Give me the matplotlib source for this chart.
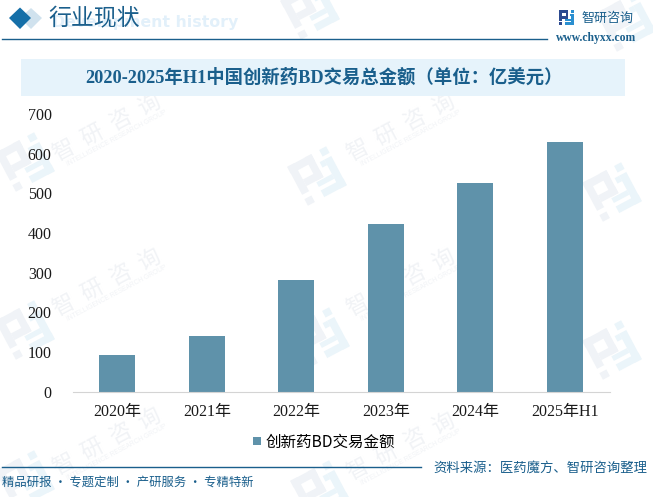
import matplotlib
matplotlib.use("Agg")
from matplotlib import pyplot as plt
from matplotlib.patches import Polygon, Rectangle
from matplotlib.transforms import Affine2D

W = 653
H = 497

years = ["2020年", "2021年", "2022年", "2023年", "2024年", "2025年H1"]
amounts = [92, 140, 281, 423, 526, 630]
y_ticks = [0, 100, 200, 300, 400, 500, 600, 700]

title = "2020-2025年H1中国创新药BD交易总金额（单位：亿美元）"
legend_label = "创新药BD交易金额"
header = "行业现状"
header_en = "Development history"
source = "资料来源：医药魔方、智研咨询整理"
slogan = "精品研报 · 专题定制 · 产研服务 · 专精特新"
logo_name = "智研咨询"
site = "www.chyxx.com"
mark_name = "智  研  咨  询"
mark_sub = "INTELLIGENCE RESEARCH GROUP"

# watermark anchor points, in pixels from top left
mark_text_spots = [(108, 128), (402, 128), (108, 283), (402, 283), (108, 442), (402, 447)]
mark_logo_spots = [(310, 10), (626, 22), (25, 162), (317, 176), (612, 192),
                   (25, 330), (320, 337), (612, 350), (25, 480), (320, 490)]

# logo pieces in a unit box: x, y, w, h
logo_left = [(0, 0, .62, .18), (0, 0, .18, .72), (.18, .42, .44, .17), (.45, 0, .17, .59), (0, .83, .18, .17)]
logo_right = [(.82, 0, .18, .17), (.82, .25, .18, .75), (.42, .83, .58, .17), (.7, .25, .12, .14), (.42, .62, .4, .12)]

BAR = "#5f92aa"
DARK = "#1a5f8c"
SERIF = ["Liberation Serif", "Noto Sans CJK SC"]
CJK = ["Noto Sans CJK SC", "DejaVu Sans"]

plt.rcParams["font.family"] = CJK

fig = plt.figure(figsize=(W / 100, H / 100), dpi=100)
back = fig.add_axes([0, 0, 1, 1])
back.set_xlim(0, W)
back.set_ylim(H, 0)
back.axis("off")


def draw_logo(x, y, size, left_color, right_color, angle=0):
    # logo is drawn around its centre, the axes y is flipped so the angle goes negative
    move = Affine2D().translate(-.5, -.5).scale(size).rotate_deg(-angle).translate(x, y) + back.transData
    for piece in logo_left:
        back.add_patch(Rectangle(piece[:2], piece[2], piece[3], color=left_color, lw=0, transform=move, zorder=0))
    for piece in logo_right:
        back.add_patch(Rectangle(piece[:2], piece[2], piece[3], color=right_color, lw=0, transform=move, zorder=0))


# watermark
for x, y in mark_logo_spots:
    draw_logo(x, y, 44, "#f0f3f7", "#ebf5fa", angle=28)
for x, y in mark_text_spots:
    back.text(x, y, mark_name, fontsize=16, color="#f1f3f6", rotation=28,
              ha="center", va="center", rotation_mode="anchor", zorder=0)
    back.text(x + 9, y + 10, mark_sub, fontsize=4.8, color="#f1f3f6", rotation=28,
              ha="center", va="center", rotation_mode="anchor", family="Liberation Sans", zorder=0)

# header
back.text(238, 22, header_en, fontsize=11.3, color="#e2f0fa", weight="bold", va="center",
          ha="right", family="DejaVu Sans")
back.add_patch(Polygon([(31, 8), (42, 18), (31, 29), (20, 18)], color="#d0e2ee", lw=0))
back.add_patch(Polygon([(20, 7.5), (31, 18), (20, 29), (9, 18)], color="#156fa8", lw=0))
back.text(48.5, 19, header, fontsize=16.5, color=DARK, va="center", weight="medium")
back.plot([2, 547], [39, 39], color=DARK, lw=1)

# logo
draw_logo(566.5, 17.5, 15, "#2c4a90", "#2a8fd0")
back.text(582, 18, logo_name, fontsize=9.4, color=DARK, va="center")
back.text(596, 38, site, fontsize=8.4, color=DARK, va="center", ha="center", weight="bold",
          family="Liberation Serif")

# title band
back.add_patch(Rectangle((21, 59), 604, 37, color="#e6f3fb", lw=0))
back.text(324, 78, title, fontsize=13.2, color=DARK, weight="bold", ha="center", va="center",
          family=SERIF)

# footer
back.plot([2, 421], [467, 467], color=DARK, lw=1)
back.text(433, 468, source, fontsize=9.6, color=DARK, va="center")
back.text(2, 482, slogan, fontsize=8.9, color=DARK, va="center")

# chart
ax = fig.add_axes([72.5 / W, 1 - 391.5 / H, 537 / W, 277.5 / H])
ax.patch.set_alpha(0)
ax.bar(years, amounts, width=0.4, color=BAR, label=legend_label)
ax.set_xlim(-0.5, 5.5)
ax.set_ylim(0, 700)
ax.set_yticks(y_ticks)
for side in ["top", "right", "left"]:
    ax.spines[side].set_visible(False)
ax.spines["bottom"].set_color("#d4d4d4")
ax.tick_params(length=0, labelsize=11.5, colors="#1a1a1a")
ax.tick_params(axis="x", pad=9)
ax.tick_params(axis="y", pad=15)
for lab in ax.get_xticklabels() + ax.get_yticklabels():
    lab.set_family(SERIF)

fig.legend(loc="center", bbox_to_anchor=(324 / W, 1 - 442 / H), frameon=False, fontsize=11.2,
           handlelength=0.5, handleheight=0.5, handletextpad=0.25)

fig.savefig("out.png", dpi=100)
